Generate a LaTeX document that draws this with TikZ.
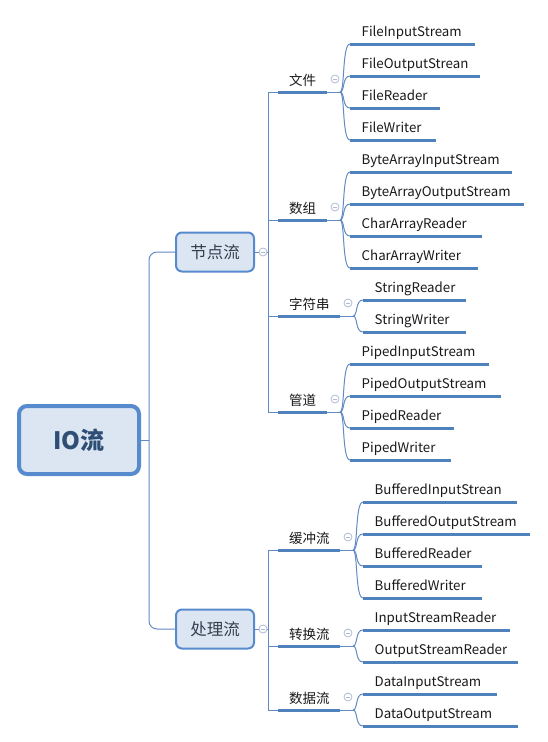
\documentclass[tikz,border=0pt]{standalone}
\usepackage{fontspec}
\setmainfont{Noto Sans CJK SC}
\definecolor{ulc}{RGB}{79,129,189}
\definecolor{thinc}{RGB}{98,138,196}
\definecolor{boxd}{RGB}{88,138,206}
\definecolor{boxf}{RGB}{220,230,243}
\definecolor{collc}{RGB}{176,186,214}
\definecolor{roott}{RGB}{47,78,117}
\definecolor{l1t}{RGB}{52,62,76}
\definecolor{txt}{RGB}{26,26,26}
\begin{document}
\begin{tikzpicture}[x=1pt,y=-1pt,
  conn/.style={draw=thinc,line width=1},
  uline/.style={draw=ulc,line width=3},
  rootbox/.style={draw=boxd,line width=4,fill=boxf,rounded corners=8,minimum width=120,minimum height=68,inner sep=0,text=roott,font=\fontsize{24}{28}\selectfont\bfseries},
  l1box/.style={draw=boxd,line width=2,fill=boxf,rounded corners=6,minimum width=78,minimum height=39,inner sep=0,text=l1t,font=\fontsize{16.5}{20}\selectfont},
  l2text/.style={anchor=base west,inner sep=0,text=txt,font=\fontsize{13.5}{16}\selectfont},
  leaftext/.style={anchor=base west,inner sep=0,text=txt,font=\fontsize{13.3}{16}\selectfont},
  coll/.style={circle,draw=collc,line width=0.8,fill=white,minimum size=8,inner sep=0,
    path picture={\draw[collc,line width=0.7] ([xshift=-2.2pt]path picture bounding box.center) -- ([xshift=2.2pt]path picture bounding box.center);}}
]
\useasboundingbox[fill=white] (0,0) rectangle (548,742);

% level 2 structure
\foreach \nm/\y/\xe/\lab in {wj/92/327/文件, sz/220/327/数组, zfc/316/340/字符串, gd/412/327/管道, hcl/550/340/缓冲流, zhl/646/340/转换流, sjl/710/340/数据流}{
  \coordinate (\nm-v) at (268,\y);
  \coordinate (\nm-s) at (278,\y);
  \coordinate (\nm-e) at (\xe,\y);
  \coordinate (\nm-b) at (\xe+13,\y);
  \draw[conn] (\nm-v) -- (\nm-s);
  \draw[conn] (\nm-e) -- (\nm-b);
  \draw[uline] (\nm-s) -- (\nm-e);
  \node[l2text] (\nm) at (289,\y-7) {\lab};
  \node[coll] (\nm-c) at (\xe+8,\y-13) {};
}

% leaves
\foreach \p/\nm/\bx/\y/\xe/\lab in {
  wj/a1/340/44/475/FileInputStream,
  wj/a2/340/76/480/FileOutputStrean,
  wj/a3/340/108/440/FileReader,
  wj/a4/340/140/436/FileWriter,
  sz/b1/340/172/512/ByteArrayInputStream,
  sz/b2/340/204/524/ByteArrayOutputStream,
  sz/b3/340/236/482/CharArrayReader,
  sz/b4/340/268/478/CharArrayWriter,
  zfc/c1/353/300/466/StringReader,
  zfc/c2/353/332/466/StringWriter,
  gd/d1/340/364/489/PipedInputStream,
  gd/d2/340/396/501/PipedOutputStream,
  gd/d3/340/428/454/PipedReader,
  gd/d4/340/460/451/PipedWriter,
  hcl/e1/353/502/517/BufferedInputStrean,
  hcl/e2/353/534/530/BufferedOutputStream,
  hcl/e3/353/566/482/BufferedReader,
  hcl/e4/353/598/482/BufferedWriter,
  zhl/f1/353/630/510/InputStreamReader,
  zhl/f2/353/662/518/OutputStreamReader,
  sjl/g1/353/694/497/DataInputStream,
  sjl/g2/353/726/518/DataOutputStream}{
  \coordinate (\nm-s) at (\bx+10,\y);
  \coordinate (\nm-e) at (\xe,\y);
  \draw[conn] (\p-b) .. controls +(5,0) and +(-8,0) .. (\nm-s);
  \draw[uline] (\nm-s) -- (\nm-e);
  \node[leaftext] (\nm) at (\bx+21.5,\y-7.5) {\lab};
}

% level 2 verticals
\draw[conn] (wj-v) -- (gd-v);
\draw[conn] (hcl-v) -- (sjl-v);

% level 1
\coordinate (jdv) at (268,252);
\coordinate (clv) at (268,629);
\node[l1box] (jd) at (215,252) {节点流};
\node[l1box] (cl) at (215,629) {处理流};
\draw[conn] (jd.east) -- (jdv);
\draw[conn] (cl.east) -- (clv);
\node[coll] (jdc) at (263,252) {};
\node[coll] (clc) at (263,629) {};

% root
\node[rootbox] (io) at (79,440) {IO流};
\coordinate (rj) at (149,440);
\draw[conn] (io.east) -- (rj);
\draw[conn,rounded corners=8] (rj) |- (jd.west);
\draw[conn,rounded corners=8] (rj) |- (cl.west);
\end{tikzpicture}
\end{document}
